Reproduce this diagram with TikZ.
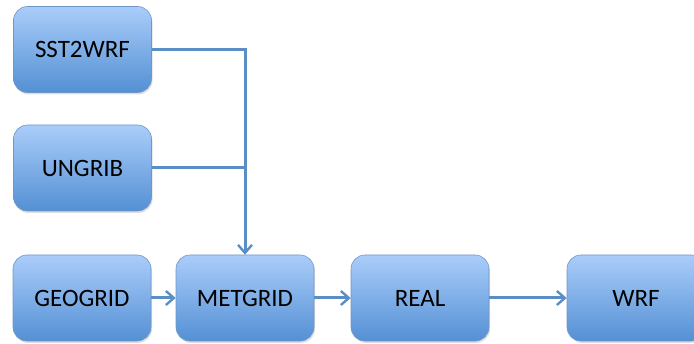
\documentclass[tikz,border=0pt]{standalone}
\usepackage{fontspec}
\setmainfont{Carlito}
\usetikzlibrary{arrows.meta,shadows}

\definecolor{boxtop}{RGB}{170,205,250}
\definecolor{boxbot}{RGB}{84,144,212}
\definecolor{boxline}{RGB}{112,150,200}
\definecolor{flow}{RGB}{92,142,198}

\tikzset{
	stage/.style={draw=boxline, line width=0.6pt, rounded corners=14pt,
		top color=boxtop, bottom color=boxbot,
		minimum width=138pt, minimum height=86pt,
		font=\fontsize{25}{29}\selectfont,
		drop shadow={shadow xshift=1pt, shadow yshift=-2pt, opacity=0.25}},
	flowline/.style={flow, line width=3pt},
	flowarrow/.style={flowline, -{Straight Barb[length=8pt, width=14pt, line width=2.4pt]}}
}

\begin{document}
\begin{tikzpicture}[x=1pt, y=1pt]
		\useasboundingbox (0,0) rectangle (694,343);
		
		% Stages
		\node[stage] (sst) at (82.5,293.5) {SST2WRF};
		\node[stage] (ungrib) at (82.5,175) {UNGRIB};
		\node[stage] (geogrid) at (82,45) {GEOGRID};
		\node[stage] (metgrid) at (245,45) {METGRID};
		\node[stage] (real) at (420,45) {REAL};
		\node[stage] (wrf) at (636,45) {WRF};
		
		% Inputs into METGRID
		\draw[flowarrow] (sst.east) -- (metgrid.north |- sst.east) -- (metgrid.north);
		\draw[flowline] (ungrib.east) -- (metgrid.north |- ungrib.east);
		
		% Main chain
		\draw[flowarrow] (geogrid) -- (metgrid);
		\draw[flowarrow] (metgrid) -- (real);
		\draw[flowarrow] (real) -- (wrf);
		
	\end{tikzpicture}
\end{document}
